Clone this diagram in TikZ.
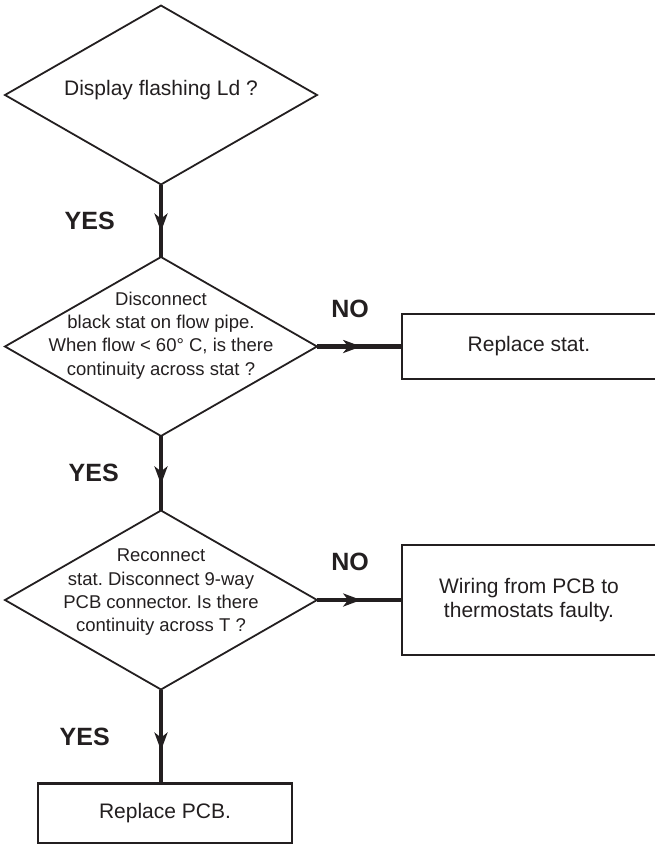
\documentclass[tikz,border=0pt]{standalone}
\usepackage{fontspec}
\setmainfont{Liberation Sans}
\usepackage{tikz}
\usetikzlibrary{shapes.geometric, arrows.meta, positioning, decorations.markings}
\definecolor{inkgray}{HTML}{231F20}
\frenchspacing
\tikzset{
  % Flowchart styles
  decision/.style={diamond, aspect=1.74, minimum width=312pt, minimum height=179pt, inner sep=-22pt, outer sep=0pt, text centered, align=center, draw=inkgray, line width=1.8pt, text=inkgray, font=\fontsize{18.5}{23.3}\selectfont},
  outcome/.style={rectangle, minimum width=254pt, minimum height=#1, outer sep=0pt, text centered, align=center, draw=inkgray, line width=2.2pt, text=inkgray, font=\fontsize{21}{23.5}\selectfont},
  outcome/.default={65pt},
  answer/.style={inner sep=0pt, text=inkgray, font=\fontsize{25}{30}\selectfont\bfseries},
  flowline/.style={draw=inkgray, line width=4.5pt, postaction={decorate}, decoration={markings, mark=at position #1 with {\arrow[inkgray]{Stealth[length=18pt, width=13pt, inset=5pt]}}}},
  flowline/.default={0.65},
}

\begin{document}
\begin{tikzpicture}[node distance=72pt]
    \useasboundingbox (0,0) rectangle (655pt,-844pt);

    % Questions
    \node[decision, font=\fontsize{21}{23.5}\selectfont, text depth=14pt] (q1) at (161pt,-95pt) {Display flashing Ld ?};
    \node[decision, text depth=26pt, below=72.5pt of q1] (q2) {Disconnect\\black stat on flow pipe.\\When flow < 60° C, is there\\continuity across stat ?};
    \node[decision, text depth=19pt, below=74.5pt of q2] (q3) {Reconnect\\stat. Disconnect 9-way\\PCB connector. Is there\\continuity across T ?};

    % Outcomes
    \node[outcome, right=85pt of q2] (stat) {Replace stat.};
    \node[outcome=110pt, right=85pt of q3] (wiring) {Wiring from PCB to\\thermostats faulty.};
    \node[outcome=60pt, below=94pt of q3, xshift=4pt] (pcb) {Replace PCB.};

    % Arrows
    \draw[flowline] (q1) -- node[answer, left=44pt] (yes1) {YES} (q2);
    \draw[flowline=0.52] (q2) -- node[answer, above=27pt, xshift=-9.5pt] (no1) {NO} (stat);
    \draw[flowline] (q2) -- node[answer, left=40pt] (yes2) {YES} (q3);
    \draw[flowline=0.52] (q3) -- node[answer, above=27pt, xshift=-9.5pt] (no2) {NO} (wiring);
    \draw[flowline] (q3.south) -- node[answer, left=49pt] (yes3) {YES} (q3.south |- pcb.north);
  \end{tikzpicture}
\end{document}
